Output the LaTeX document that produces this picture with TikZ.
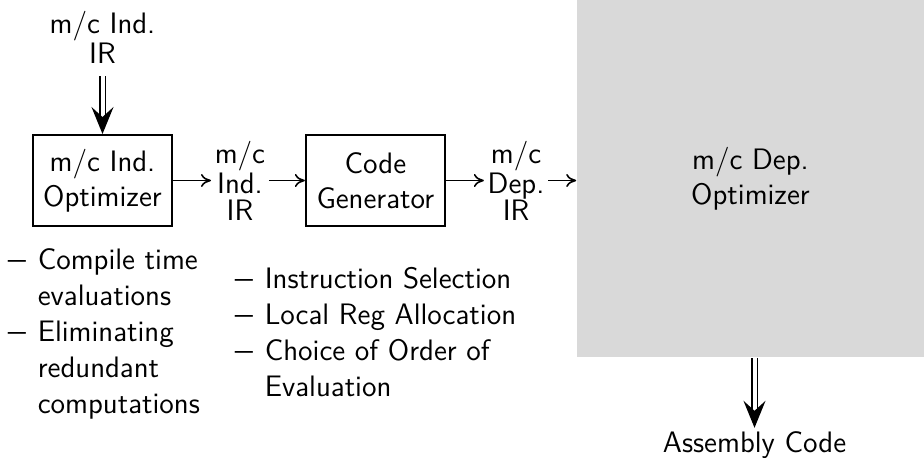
\documentclass[tikz,border=0pt]{standalone}
\usetikzlibrary{arrows.meta,positioning}
\newcommand{\dashitem}{\makebox[15pt][l]{\scalebox{1.25}[1]{--}}}
\newcommand{\dashgap}{\hspace*{15pt}}
\begin{document}
\begin{tikzpicture}[x=0.5pt,y=-0.5pt,>={To[length=5pt,width=6.5pt]},line width=0.8pt,
                    node distance=19pt,
                    every node/.style={font=\fontsize{14.8}{17.5}\selectfont\sffamily}]
  \tikzstyle{stage}=[draw,line width=1pt,align=center,minimum width=69.5pt,minimum height=45.5pt,inner sep=0pt]
  \tikzstyle{irtext}=[align=center,inner sep=1.5pt,font=\fontsize{14.8}{13.5}\selectfont\sffamily]
  \tikzstyle{notes}=[align=left,inner sep=0pt,anchor=north west,font=\fontsize{14.8}{18}\selectfont\sffamily]
  \tikzstyle{dbl}=[double,double distance=2pt,line width=0.75pt,-{Stealth[length=13.5pt,width=11pt,inset=5pt]}]

  \useasboundingbox (0,0) rectangle (924,457);

  \node[fill=black!15,align=center,inner sep=0pt,minimum width=173.5pt,minimum height=178.5pt]
        (mdo) at (750.5,178.5) {m/c Dep.\\Optimizer};
  \node[stage]  (mio) at (102.5,180.5)   {m/c Ind.\\Optimizer};
  \node[irtext] (mii) [above=33.5pt of mio] {m/c Ind.\\IR};
  \node[irtext] (iir) [right=of mio]     {m/c\\Ind.\\IR};
  \node[stage]  (cg)  [right=18pt of iir] {Code\\Generator};
  \node[irtext] (dir) [right=of cg]      {m/c\\Dep.\\IR};
  \node[inner sep=1.5pt] (asm) [below=35pt of mdo,xshift=2pt] {Assembly Code};

  % side notes
  \node[notes] (miolist) at (7,247.5) {\dashitem Compile time\\ \dashgap evaluations\\
        \dashitem Eliminating\\ \dashgap redundant\\ \dashgap computations};
  \node[notes] (cglist) at (234,266.5) {\dashitem Instruction Selection\\
        \dashitem Local Reg Allocation\\ \dashitem Choice of Order of\\ \dashgap Evaluation};

  \path[->] (mio) edge (iir)
            (iir) edge (cg)
            (cg)  edge (dir)
            (dir) edge (dir -| mdo.west);
  \draw[dbl,shorten <=4.5pt] (mii) -- (mio);
  \draw[dbl] (mdo.south -| asm) -- (asm);
\end{tikzpicture}
\end{document}
